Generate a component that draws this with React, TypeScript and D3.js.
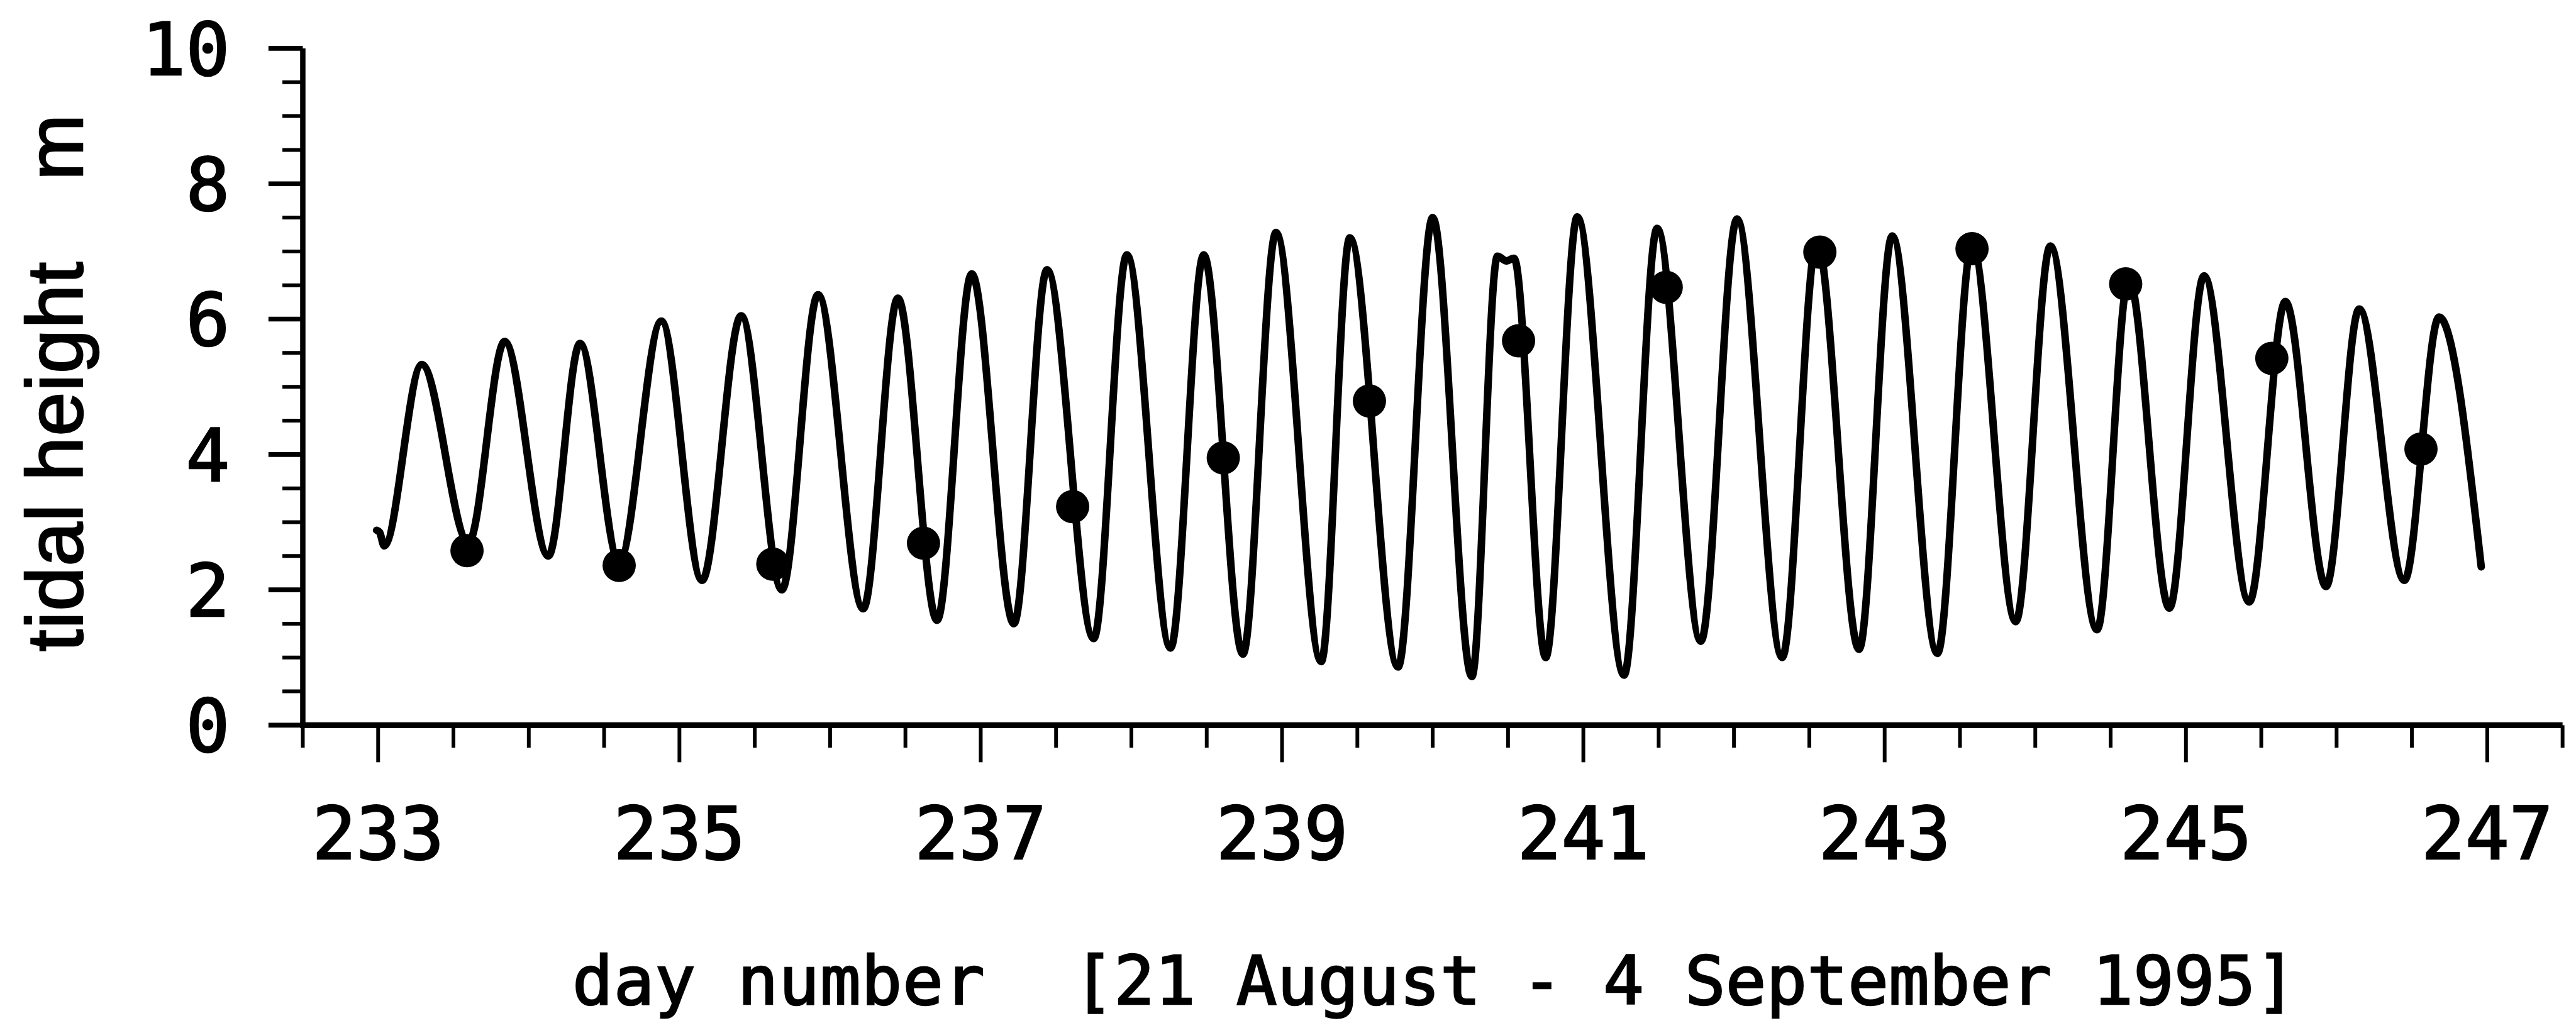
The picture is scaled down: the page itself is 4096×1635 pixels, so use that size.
import React from "react";
import * as d3 from "d3";

// ---- data ----
// predicted tide curve: turning points (day number, tidal height m)
const tideDay = [
  232.99, 233.01, 233.04, 233.29, 233.6, 233.84, 234.13, 234.34, 234.6, 234.88,
  235.15, 235.41, 235.68, 235.92, 236.22, 236.45, 236.71, 236.94, 237.22, 237.44,
  237.75, 237.97, 238.26, 238.48, 238.74, 238.96, 239.26, 239.45, 239.77, 240.0,
  240.26, 240.43, 240.49, 240.54, 240.75, 240.96, 241.27, 241.49, 241.78, 242.02,
  242.32, 242.55, 242.83, 243.05, 243.35, 243.58, 243.87, 244.1, 244.41, 244.62,
  244.89, 245.12, 245.42, 245.66, 245.93, 246.15, 246.45, 246.68, 246.96,
];
const tideHeight = [
  2.88, 2.85, 2.65, 5.33, 2.7, 5.67, 2.5, 5.64, 2.42, 5.97,
  2.14, 6.05, 2.0, 6.36, 1.72, 6.31, 1.55, 6.67, 1.5, 6.73,
  1.28, 6.95, 1.14, 6.95, 1.05, 7.28, 0.94, 7.2, 0.86, 7.5,
  0.72, 6.93, 6.86, 6.9, 1.0, 7.51, 0.74, 7.34, 1.24, 7.48,
  1.0, 7.15, 1.12, 7.23, 1.06, 7.1, 1.53, 7.08, 1.41, 6.6,
  1.73, 6.64, 1.82, 6.26, 2.05, 6.15, 2.14, 6.03, 2.34,
];
// observed values (dots)
const obsDay = [
  233.59, 234.6, 235.62, 236.62, 237.61, 238.61, 239.58, 240.57, 241.55, 242.57,
  243.58, 244.6, 245.57, 246.56,
];
const obsHeight = [
  2.58, 2.36, 2.38, 2.69, 3.23, 3.95, 4.79, 5.68, 6.47, 6.99,
  7.04, 6.52, 5.42, 4.08,
];
const xTickLabels = [233, 235, 237, 239, 241, 243, 245, 247];
const yTickLabels = [0, 2, 4, 6, 8, 10];
const xDomain = [232.5, 247.5];
const yDomain = [0, 10];
const yLabelText = "tidal height";
const yUnitText = "m";
const xLabelA = "day number";
const xLabelB = "[21 August - 4 September 1995]";

export default function App() {
  const W = 4798;
  const H = 1915;
  const x = d3.scaleLinear().domain(xDomain).range([564, 4773]);
  const y = d3.scaleLinear().domain(yDomain).range([1351, 90]);

  const pts = tideDay.map((d, i) => [d, tideHeight[i]] as [number, number]);
  const line = d3
    .line<[number, number]>()
    .x((d) => x(d[0]))
    .y((d) => y(d[1]))
    .curve(d3.curveMonotoneX);

  const xMinor = d3.range(xDomain[0], xDomain[1] + 0.01, 0.5);
  const yMinor = d3.range(yDomain[0], yDomain[1] + 0.01, 0.5);
  const x0 = x(xDomain[0]);
  const y0 = y(0);

  const tickFont = "'DejaVu Sans Mono', monospace";
  const tickSize = 136;
  const textStroke = { stroke: "#000", strokeWidth: 3 };

  return (
    <div style={{ position: "absolute", left: 0, top: 0 }}>
      <svg
        width={4096}
        height={1635}
        viewBox={`0 0 ${W} ${H}`}
        style={{ display: "block", background: "#fff" }}
      >
        <rect x={0} y={0} width={W} height={H} fill="#fff" />
        {/* axes */}
        <line x1={x0} x2={x0} y1={y(10)} y2={y0} stroke="#000" strokeWidth={10} />
        <line x1={x0 - 5} x2={x(xDomain[1])} y1={y0} y2={y0} stroke="#000" strokeWidth={11} />
        {/* y ticks */}
        {yMinor.map((v) => {
          const major = Math.abs(v % 2) < 1e-6;
          return (
            <line
              key={"yt" + v}
              x1={x0 - (major ? 64 : 38)}
              x2={x0}
              y1={y(v)}
              y2={y(v)}
              stroke="#000"
              strokeWidth={major ? 9 : 7}
            />
          );
        })}
        {/* x ticks */}
        {xMinor.map((v) => {
          const major = Math.abs((v - 233) % 2) < 1e-6;
          return (
            <line
              key={"xt" + v}
              x1={x(v)}
              x2={x(v)}
              y1={y0}
              y2={y0 + (major ? 69 : 42)}
              stroke="#000"
              strokeWidth={7}
            />
          );
        })}
        {/* y tick labels */}
        {yTickLabels.map((v) => (
          <text
            key={"yl" + v}
            x={428}
            y={y(v) + 0.36 * tickSize}
            textAnchor="end"
            fontFamily={tickFont}
            fontSize={tickSize}
            fill="#000"
            {...textStroke}
          >
            {v}
          </text>
        ))}
        {/* x tick labels */}
        {xTickLabels.map((v) => (
          <text
            key={"xl" + v}
            x={x(v)}
            y={1600}
            textAnchor="middle"
            fontFamily={tickFont}
            fontSize={tickSize}
            fill="#000"
            {...textStroke}
          >
            {v}
          </text>
        ))}
        {/* axis titles */}
        <text
          x={1066}
          y={1871}
          fontFamily={tickFont}
          fontSize={126}
          textLength={768}
          lengthAdjust="spacing"
          fill="#000"
          {...textStroke}
        >
          {xLabelA}
        </text>
        <text
          x={1999}
          y={1871}
          fontFamily={tickFont}
          fontSize={126}
          textLength={2278}
          lengthAdjust="spacing"
          fill="#000"
          {...textStroke}
        >
          {xLabelB}
        </text>
        <text
          transform={`translate(154,1214) rotate(-90)`}
          fontFamily="'Liberation Sans', Arial, sans-serif"
          fontSize={148}
          textLength={726}
          lengthAdjust="spacing"
          fill="#000"
          {...textStroke}
        >
          {yLabelText}
        </text>
        <text
          transform={`translate(154,336) rotate(-90)`}
          fontFamily="'Liberation Sans', Arial, sans-serif"
          fontSize={148}
          fill="#000"
          {...textStroke}
        >
          {yUnitText}
        </text>
        {/* tide curve */}
        <path
          d={line(pts) || ""}
          fill="none"
          stroke="#000"
          strokeWidth={14}
          strokeLinejoin="round"
          strokeLinecap="round"
        />
        {/* observations */}
        {obsDay.map((d, i) => (
          <circle key={"o" + i} cx={x(d)} cy={y(obsHeight[i])} r={31} fill="#000" />
        ))}
      </svg>
    </div>
  );
}
